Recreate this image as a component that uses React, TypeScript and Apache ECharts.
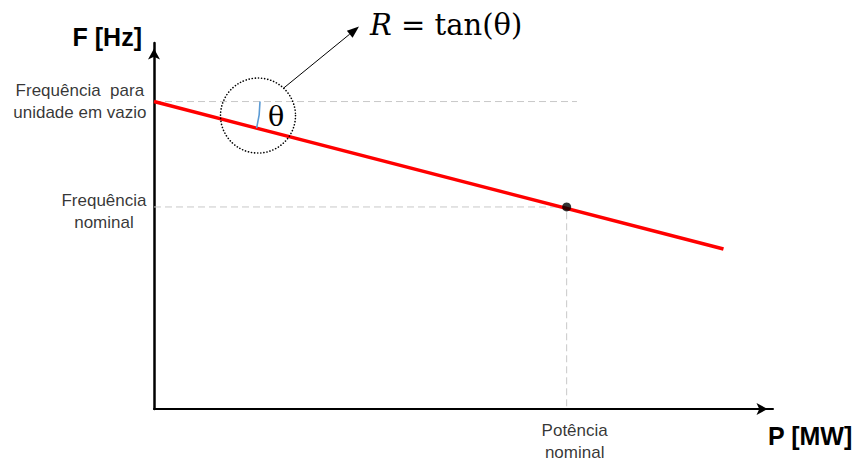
import React, { useEffect, useRef } from 'react';
import * as echarts from 'echarts';

// Axis ranges (arbitrary units: power on x, frequency on y)
const powerRange = [0, 150];
const freqRange = [0, 100];

// Droop characteristic: from no-load frequency down to the end of the range
const droopLine = [
  [0, 84],
  [138, 43.7],
];
// Rated operating point
const nominalPoint = [100, 55.2];

// Dashed reference guides
const noLoadGuide = [
  [0, 84],
  [102.5, 84],
];
const nominalGuide = [
  [0, 55.2],
  [100, 55.2],
  [100, 0],
];

// Axis titles
const axisTitles = { x: 'P [MW]', y: 'F [Hz]' };

// Annotation labels and where they sit
const noteTexts = ['Frequência  para\nunidade em vazio', 'Frequência\nnominal', 'Potência\nnominal'];
const noteAnchors = [
  [0, 84],
  [0, 55.2],
  [100, 0],
];

const SANS = '"Liberation Sans", Arial, sans-serif';
const SERIF = '"DejaVu Serif", "Liberation Serif", serif';

const centered = (t: string) =>
  t
    .split('\n')
    .map((l) => `{c|${l}}`)
    .join('\n');

export default function App() {
  const ref = useRef<HTMLDivElement>(null);

  useEffect(() => {
    if (!ref.current) return;
    const chart = echarts.init(ref.current, undefined, { renderer: 'svg' });

    const axisArrow = {
      symbol: ['none', 'arrow'],
      symbolSize: [9, 11],
      symbolOffset: [0, -5.5],
    };

    const noteLabel = (text: string, extra: any) => ({
      show: true,
      formatter: centered(text),
      color: '#000',
      fontFamily: SANS,
      fontSize: 17,
      rich: {
        c: { align: 'center', fontSize: 17, lineHeight: 22, fontFamily: SANS, color: '#000' },
      },
      ...extra,
    });

    chart.setOption({
      animation: false,
      grid: { left: 154, right: 85, top: 43, bottom: 52, outerBoundsMode: 'none', containLabel: false },
      xAxis: {
        type: 'value',
        min: powerRange[0],
        max: powerRange[1],
        name: axisTitles.x,
        nameLocation: 'end',
        nameGap: -5,
        nameTextStyle: {
          fontFamily: SANS,
          fontWeight: 'bold',
          fontSize: 25,
          color: '#000',
          align: 'left',
          verticalAlign: 'top',
          lineHeight: 54,
        },
        axisLine: { show: true, lineStyle: { color: '#000', width: 2 }, ...axisArrow },
        axisTick: { show: false },
        axisLabel: { show: false },
        splitLine: { show: false },
      },
      yAxis: {
        type: 'value',
        min: freqRange[0],
        max: freqRange[1],
        name: axisTitles.y,
        nameLocation: 'end',
        nameGap: 6,
        nameTextStyle: {
          fontFamily: SANS,
          fontWeight: 'bold',
          fontSize: 25,
          color: '#000',
          align: 'right',
          verticalAlign: 'middle',
          padding: [0, 12, 0, 0],
        },
        axisLine: { show: true, lineStyle: { color: '#000', width: 2.5 }, ...axisArrow },
        axisTick: { show: false },
        axisLabel: { show: false },
        splitLine: { show: false },
      },
      series: [
        {
          type: 'line',
          data: noLoadGuide,
          symbol: 'none',
          lineStyle: { color: '#c8c8c8', width: 1, type: [7, 4] },
          silent: true,
          z: 1,
        },
        {
          type: 'line',
          data: nominalGuide,
          symbol: 'none',
          lineStyle: { color: '#c8c8c8', width: 1, type: [7, 4] },
          silent: true,
          z: 1,
        },
        {
          type: 'line',
          data: droopLine,
          symbol: 'none',
          lineStyle: { color: '#ff0000', width: 3.5 },
          z: 3,
        },
        {
          type: 'scatter',
          data: [nominalPoint],
          symbol: 'circle',
          symbolSize: 9,
          itemStyle: { color: '#000' },
          z: 4,
        },
        {
          type: 'scatter',
          symbolSize: 1,
          itemStyle: { color: 'transparent' },
          silent: true,
          data: [
            { value: noteAnchors[0], label: noteLabel(noteTexts[0], { position: 'left', distance: 7 }) },
            {
              value: noteAnchors[1],
              label: noteLabel(noteTexts[1], { position: 'left', distance: 7, offset: [0, 5] }),
            },
            {
              value: noteAnchors[2],
              label: noteLabel(noteTexts[2], { position: 'bottom', distance: 10, offset: [8, 0] }),
            },
          ],
        },
      ],
    });

    // Angle annotation placed relative to the droop line in pixel space
    const px = (p: number[]) => chart.convertToPixel({ gridIndex: 0 }, p) as number[];
    const v = px(droopLine[0]);
    const e = px(droopLine[1]);
    const ang = Math.atan2(e[1] - v[1], e[0] - v[0]);
    const arcR = 106;
    const ring = [v[0] + 104, v[1] + 14];
    const ringR = 37.5;
    const dir = (-47 * Math.PI) / 180;
    const start = [ring[0] + ringR * Math.cos(dir), ring[1] + ringR * Math.sin(dir)];
    const tip = [ring[0] + 101, ring[1] - 89];
    const ux = tip[0] - start[0];
    const uy = tip[1] - start[1];
    const len = Math.hypot(ux, uy);
    const nx = ux / len;
    const ny = uy / len;
    const headL = 12;
    const headW = 4.5;
    const base = [tip[0] - nx * headL, tip[1] - ny * headL];

    chart.setOption({
      graphic: [
        {
          type: 'arc',
          shape: { cx: v[0], cy: v[1], r: arcR, startAngle: 0, endAngle: ang, clockwise: true },
          style: { stroke: '#5b9bd5', lineWidth: 1.6, fill: null },
          z: 10,
        },
        {
          type: 'circle',
          shape: { cx: ring[0], cy: ring[1], r: ringR },
          style: { fill: null, stroke: '#000', lineWidth: 1.6, lineDash: [0.1, 3], lineCap: 'round' },
          z: 10,
        },
        {
          type: 'text',
          x: ring[0] + 10,
          y: ring[1] + 1,
          style: {
            text: 'θ',
            fontFamily: SERIF,
            fontSize: 27,
            fill: '#000',
            align: 'left',
            verticalAlign: 'middle',
          },
          z: 10,
        },
        {
          type: 'line',
          shape: { x1: start[0], y1: start[1], x2: base[0], y2: base[1] },
          style: { stroke: '#000', lineWidth: 1 },
          z: 10,
        },
        {
          type: 'polygon',
          shape: {
            points: [
              tip,
              [base[0] - ny * headW, base[1] + nx * headW],
              [base[0] + ny * headW, base[1] - nx * headW],
            ],
          },
          style: { fill: '#000' },
          z: 10,
        },
        {
          type: 'text',
          x: tip[0] + 11,
          y: tip[1] - 2,
          style: {
            text: '{i|R} = tan(θ)',
            fontFamily: SERIF,
            fontSize: 29,
            fill: '#000',
            align: 'left',
            verticalAlign: 'middle',
            rich: {
              i: { fontFamily: SERIF, fontSize: 29, fontStyle: 'italic', fill: '#000' },
            },
          },
          z: 10,
        },
      ],
    });

    return () => chart.dispose();
  }, []);

  return (
    <div
      ref={ref}
      style={{ position: 'fixed', left: 0, top: 0, width: 858, height: 461, background: '#fff' }}
    />
  );
}
